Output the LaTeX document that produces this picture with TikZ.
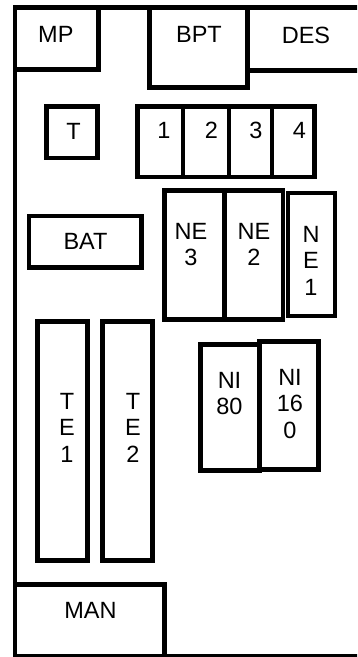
\documentclass[tikz,border=0pt]{standalone}
\usepackage{fontspec}
\setmainfont{Liberation Sans}
\begin{document}
\begin{tikzpicture}[x=1pt,y=-1pt,
  box/.style={draw=black,line width=4.8pt,line join=miter},
  lbl/.style={anchor=north,inner sep=0pt,align=center,font=\fontsize{23.5}{26.5}\selectfont}]
\useasboundingbox (0,0) rectangle (357,657);
\clip (0,0) rectangle (357,657);
% outer frame (open on the right, running off the picture)
\draw[box] (362,7.5) -- (15,7.5) -- (15,656.5) -- (362,656.5);
% top row
\draw[box] (15,7.5) rectangle (98.5,69.5);
\draw[box] (149.5,7.5) rectangle (247.5,87.5);
\draw[box] (362,70.5) -- (247.5,70.5) -- (247.5,7.5);
% T and 1-4
\draw[box] (46.5,106.5) rectangle (97.5,158);
\draw[box] (137.5,106.5) rectangle (183,177);
\draw[box] (183,106.5) rectangle (229,177);
\draw[box] (229,106.5) rectangle (272,177);
\draw[box] (272,106.5) rectangle (314.5,177);
% BAT and NE
\draw[box] (29,216) rectangle (141.5,267.5);
\draw[box] (164.5,190.5) rectangle (224.5,319.5);
\draw[box] (224.5,190.5) rectangle (283,319.5);
\draw[box] (288,193) rectangle (335,316);
% TE and NI
\draw[box] (37.5,321.5) rectangle (87.5,560.5);
\draw[box] (102.5,321.5) rectangle (152.5,560.5);
\draw[box] (200.5,344.5) rectangle (259.5,470.5);
\draw[box] (259.5,341.5) rectangle (318.5,469.5);
% MAN
\draw[box] (15,584.5) rectangle (164.5,656.5);
% labels
\node[lbl] (mp) at (55.8,26) {MP};
\node[lbl] (bpt) at (199,26) {BPT};
\node[lbl] (des) at (306,27) {DES};
\node[lbl] (t) at (73.5,123) {T};
\node[lbl] (d1) at (164,122) {1};
\node[lbl] (d2) at (211.5,122) {2};
\node[lbl] (d3) at (256,122) {3};
\node[lbl] (d4) at (299.5,122) {4};
\node[lbl] (bat) at (85.5,233) {BAT};
\node[lbl] (ne3) at (191,223) {NE\\3};
\node[lbl] (ne2) at (254,223) {NE\\2};
\node[lbl] (ne1) at (311,226) {N\\E\\1};
\node[lbl] (te1) at (67,393) {T\\E\\1};
\node[lbl] (te2) at (133,393) {T\\E\\2};
\node[lbl] (ni80) at (229.5,372) {NI\\80};
\node[lbl] (ni160) at (290,369) {NI\\16\\0};
\node[lbl] (man) at (90.5,602) {MAN};
\end{tikzpicture}
\end{document}
